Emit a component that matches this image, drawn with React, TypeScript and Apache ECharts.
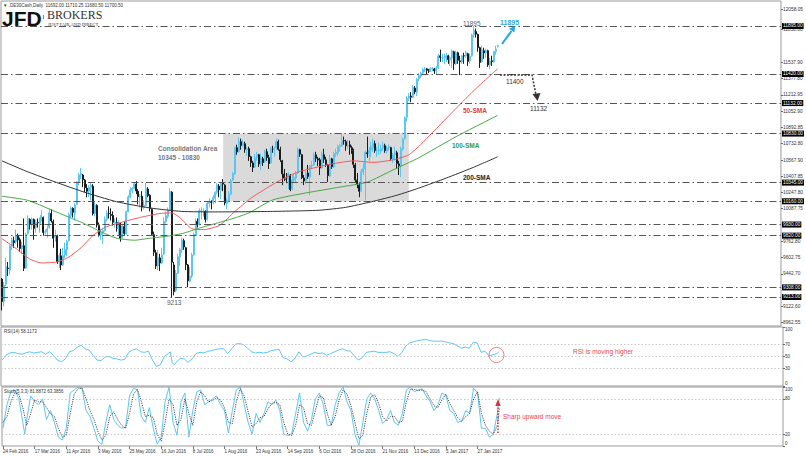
import React, { useEffect, useRef } from "react";
import * as echarts from "echarts";

const FONT = '"Liberation Sans", Arial, sans-serif';
const SERIF = '"Liberation Serif", "DejaVu Serif", serif';

// ---- categories: daily bars (weekdays, broker holidays removed) ----
const HOLIDAYS = ["2016-03-25", "2016-12-26"];
const FIRST_DAY = [2016, 1, 24];
const LAST_DAY = [2017, 1, 13];
const EMPTY_SLOTS = 143;
const MONTHS = ["Jan", "Feb", "Mar", "Apr", "May", "Jun", "Jul", "Aug", "Sep", "Oct", "Nov", "Dec"];

// ---- price candles: [open, close, low, high] ----
const candles: number[][] = [
  [9390,9167,9080,9400],[9170,9331,9120,9360],[9340,9513,9320,9600],
  [9500,9495,9420,9560],[9480,9717,9430,9730],[9720,9777,9680,9800],[9770,9751,9700,9810],[9760,9824,9740,9880],
  [9820,9778,9700,9840],[9780,9692,9660,9800],[9690,9723,9640,9760],[9720,9498,9470,9990],[9500,9831,9490,9850],
  [9840,9990,9830,10020],[9980,9933,9880,9990],[9930,9983,9880,10000],[9980,9892,9780,9990],[9900,9950,9850,9980],
  [9950,9948,9900,9990],[9940,9990,9850,10000],[9990,10022,9960,10070],[10000,9851,9820,10010],
  [9850,9860,9830,9880],[9860,9887,9800,9920],[9900,10046,9890,10090],[10040,9966,9950,10080],[9960,9794,9700,9980],
  [9800,9822,9760,9880],[9820,9563,9540,9830],[9560,9624,9500,9650],[9620,9530,9480,9690],[9530,9622,9520,9700],
  [9630,9682,9600,9750],[9680,9762,9620,9780],[9770,10027,9760,10050],[10020,10093,10000,10110],[10090,10051,10000,10100],
  [10040,10120,9970,10140],[10130,10350,10120,10360],[10350,10421,10320,10440],[10420,10435,10380,10490],[10420,10373,10300,10430],
  [10370,10294,10250,10380],[10290,10260,10200,10330],[10260,10299,10200,10320],[10300,10321,10170,10340],[10310,10039,10020,10330],
  [10040,10123,10010,10150],[10120,9926,9900,10130],[9920,9828,9810,9950],[9830,9851,9780,9890],[9850,9870,9740,9890],
  [9870,9980,9860,10010],[9980,10045,9960,10070],[10040,10037,9990,10110],[10030,10020,9970,10090],[10020,9952,9920,10060],
  [9950,9953,9900,9990],[9950,9891,9860,10000],[9890,9943,9830,9970],[9940,9795,9760,9950],[9800,9916,9790,9930],
  [9910,9842,9820,9960],[9840,10057,9830,10070],[10060,10205,10050,10220],[10200,10272,10190,10300],[10270,10287,10240,10300],
  [10290,10333,10280,10350],[10330,10263,10230,10360],[10260,10205,10130,10280],[10200,10208,10100,10230],[10210,10103,10060,10260],
  [10100,10121,10080,10170],[10120,10287,10110,10340],[10280,10217,10200,10300],[10220,10088,10060,10230],[10080,9834,9820,10090],
  [9830,9657,9620,9860],[9650,9520,9490,9680],[9520,9607,9480,9680],[9600,9550,9470,9640],[9550,9631,9540,9700],
  [9640,9962,9630,10000],[9960,10016,9940,10060],[10010,10071,9990,10100],[10070,10258,10060,10290],[10250,9557,9213,10260],
  [9530,9268,9230,9560],[9280,9448,9260,9480],[9450,9612,9440,9640],[9610,9680,9520,9700],[9680,9776,9650,9800],
  [9770,9709,9680,9790],[9700,9532,9480,9710],[9530,9373,9310,9540],[9370,9418,9360,9510],[9420,9629,9400,9650],
  [9630,9833,9620,9850],[9830,9964,9820,9990],[9960,9930,9900,9990],[9930,10068,9920,10090],[10060,10066,9980,10100],
  [10060,10063,10010,10090],[10060,9981,9950,10070],[9980,10142,9970,10160],[10140,10156,10100,10190],[10150,10147,10080,10170],
  [10150,10198,10130,10220],[10190,10247,10140,10260],[10250,10319,10230,10340],[10310,10275,10200,10330],[10270,10337,10180,10340],
  [10340,10330,10260,10380],[10320,10144,10120,10330],[10140,10170,10080,10190],[10170,10228,10150,10260],[10230,10367,10220,10380],
  [10370,10432,10360,10450],[10430,10692,10420,10700],[10690,10650,10620,10720],[10650,10753,10640,10790],[10750,10713,10670,10780],
  [10710,10739,10700,10770],[10730,10676,10640,10750],[10670,10679,10610,10700],[10680,10603,10560,10700],[10600,10544,10500,10610],
  [10540,10495,10450,10560],[10500,10593,10490,10630],[10590,10623,10560,10650],[10620,10530,10500,10630],[10530,10587,10470,10630],
  [10580,10544,10510,10600],[10550,10657,10540,10670],[10650,10593,10560,10680],[10590,10534,10480,10620],[10540,10684,10530,10700],
  [10680,10672,10640,10710],[10670,10688,10600,10700],[10690,10752,10670,10780],[10750,10675,10660,10770],[10670,10573,10550,10700],
  [10560,10432,10320,10570],[10430,10387,10360,10480],[10380,10379,10340,10440],[10380,10431,10280,10450],[10420,10276,10260,10430],
  [10280,10374,10270,10420],[10370,10393,10340,10440],[10390,10436,10350,10460],[10440,10674,10430,10690],[10670,10626,10600,10680],
  [10620,10394,10380,10630],[10390,10361,10320,10420],[10360,10438,10330,10460],[10440,10405,10380,10520],[10400,10511,10220,10520],
  [10510,10519,10480,10560],[10520,10619,10510,10640],[10620,10585,10550,10650],[10580,10568,10510,10600],[10570,10490,10420,10590],
  [10490,10624,10480,10650],[10620,10577,10540,10680],[10570,10523,10500,10600],[10520,10414,10350,10530],[10410,10580,10400,10620],
  [10580,10503,10480,10590],[10500,10631,10490,10650],[10630,10645,10600,10680],[10640,10701,10610,10720],[10700,10711,10650,10730],
  [10710,10762,10700,10830],[10760,10757,10720,10800],[10750,10710,10660,10770],[10710,10717,10680,10770],[10720,10696,10620,10760],
  [10690,10665,10630,10710],[10660,10526,10490,10680],[10520,10370,10350,10540],[10370,10325,10290,10440],[10320,10259,10200,10350],
  [10260,10456,10250,10480],[10450,10482,10420,10540],[10480,10646,10174,10660],[10640,10630,10590,10800],[10630,10667,10560,10700],
  [10670,10693,10600,10750],[10690,10735,10650,10780],[10730,10663,10640,10760],[10660,10664,10600,10700],[10660,10664,10620,10740],
  [10660,10685,10630,10720],[10690,10713,10660,10750],[10710,10662,10640,10730],[10660,10689,10630,10710],[10690,10700,10660,10720],
  [10690,10582,10560,10700],[10580,10620,10540,10640],[10620,10640,10560,10700],[10640,10534,10480,10660],[10530,10513,10420,10560],
  [10510,10684,10400,10700],[10680,10776,10660,10790],[10780,10986,10770,11000],[10990,11179,10950,11200],[11180,11203,11150,11230],
  [11200,11190,11140,11240],[11190,11284,11180,11310],[11280,11244,11220,11300],[11240,11366,11200,11380],[11370,11404,11350,11430],
  [11400,11427,11380,11440],[11430,11464,11410,11480],[11460,11468,11440,11490],[11470,11456,11420,11480],[11450,11449,11430,11470],
  [11450,11474,11440,11490],[11470,11475,11450,11490],[11470,11451,11420,11480],[11450,11481,11420,11500],
  [11480,11599,11470,11620],[11600,11584,11540,11660],[11580,11585,11540,11620],[11580,11585,11520,11620],[11580,11599,11540,11630],
  [11600,11563,11520,11610],[11560,11583,11500,11600],[11580,11646,11480,11660],[11640,11521,11460,11650],[11520,11629,11510,11650],
  [11630,11555,11520,11640],[11550,11540,11410,11600],[11540,11599,11520,11610],[11600,11599,11520,11630],[11600,11630,11580,11650],
  [11620,11545,11500,11630],[11550,11595,11520,11620],[11600,11806,11590,11820],[11810,11848,11780,11895],[11840,11814,11780,11870],
  [11810,11681,11640,11820],[11680,11535,11480,11690],[11540,11659,11530,11700],[11650,11627,11570,11680],[11630,11651,11580,11670],
  [11650,11509,11490,11660],[11510,11549,11470,11580],[11550,11543,11500,11600],[11540,11643,11530,11650],[11640,11667,11610,11700],
  [11692,11700.5,11680.5,11710.25],
];

// ---- moving averages: [bar index, value] ----
const sma50: number[][] = [
  [0,9790],[8,9680],[14,9590],[20,9550],[28,9560],[34,9610],[40,9700],[46,9820],[52,9900],[60,9950],
  [70,10000],[80,10040],[86,10045],[90,10000],[96,9890],[102,9880],[110,9920],[118,10060],[126,10190],
  [134,10290],[142,10380],[150,10450],[160,10500],[170,10540],[178,10560],[188,10545],[198,10570],
  [206,10620],[212,10720],[218,10840],[227,11020],[235,11180],[243,11330],[251,11470],
];
const sma100: number[][] = [
  [0,10210],[13,10170],[25,10075],[33,10010],[41,9945],[50,9860],[58,9795],[67,9775],[75,9795],
  [84,9815],[92,9845],[100,9895],[109,9945],[117,9990],[125,10045],[137,10173],[154,10243],[171,10300],
  [185,10350],[198,10470],[211,10590],[230,10800],[251,11010],
];
const sma200: number[][] = [
  [0,10560],[12,10460],[24,10372],[41,10255],[58,10156],[75,10094],[91,10060],[108,10055],[125,10057],
  [137,10060],[150,10065],[161,10072],[174,10100],[187,10155],[200,10220],[211,10290],[225,10390],
  [238,10490],[251,10600],
];

// ---- RSI(14) ----
const rsi: number[][] = [
  [0,44],[2,52],[4,56],[6,57],[8,55],[10,54],[12,56],[14,58],[16,56],[18,57],[20,58],[22,54],[24,58],
  [26,52],[28,44],[30,41],[32,46],[34,58],[36,60],[38,66],[40,69],[42,63],[44,61],[46,52],[48,44],[50,43],
  [52,49],[54,50],[56,47],[58,46],[60,44],[62,45],[64,57],[66,61],[68,63],[70,58],[72,57],[74,59],[76,44],
  [78,33],[80,36],[82,50],[84,55],[85,58],[86,40],[87,36],[88,40],[90,47],[92,46],[94,40],[96,46],[98,55],
  [100,57],[102,56],[104,59],[106,60],[108,62],[110,63],[112,63],[114,55],[116,63],[118,71],[120,72],[122,70],
  [124,64],[126,58],[128,56],[130,57],[132,56],[134,57],[136,60],[138,61],[140,62],[142,48],[144,46],[146,41],
  [148,47],[150,58],[152,49],[154,51],[156,54],[158,57],[160,55],[162,56],[164,52],[166,55],[168,58],[170,61],
  [172,63],[174,60],[176,59],[178,51],[180,44],[182,48],[184,57],[186,58],[188,59],[190,57],[192,57],[194,57],
  [196,58],[198,55],[200,50],[202,57],[204,68],[206,73],[208,75],[210,77],[212,78],[214,79],[216,77],[218,76],
  [220,76],[222,76],[224,75],[226,73],[228,72],[230,68],[232,64],[234,66],[236,64],[238,74],[240,73],[242,57],
  [244,59],[246,51],[248,53],[250,55],[251,58.1173],
];

// ---- Stochastic(5,3,3) ----
const stochK: number[][] = [
  [0,30],[2,70],[4,92],[6,95],[8,80],[10,40],[11,20],[12,45],[14,85],[16,75],[18,70],[20,80],[22,45],[24,60],
  [26,40],[28,15],[30,10],[32,30],[34,90],[36,95],[38,100],[40,98],[42,60],[44,50],[46,30],[48,8],[50,3],
  [52,40],[54,70],[56,45],[58,35],[60,30],[62,32],[64,85],[66,98],[68,95],[70,50],[72,40],[74,65],[76,30],
  [78,3],[80,15],[82,75],[84,100],[86,40],[88,18],[90,75],[92,90],[94,15],[96,60],[98,92],[100,95],[102,70],
  [104,75],[106,80],[108,85],[110,70],[112,60],[114,22],[116,60],[118,95],[120,100],[122,70],[124,40],[126,20],
  [128,55],[130,40],[132,55],[134,75],[136,70],[138,78],[140,60],[142,20],[144,18],[146,20],[148,55],[150,90],
  [152,40],[154,25],[156,45],[158,80],[160,90],[162,70],[164,35],[166,35],[168,70],[170,90],[172,100],[174,75],
  [176,60],[178,20],[180,1],[182,40],[184,80],[186,90],[188,80],[190,60],[192,38],[194,45],[196,60],[198,40],
  [200,35],[202,55],[204,95],[206,100],[208,92],[210,95],[212,97],[214,85],[216,75],[218,60],[220,70],[222,90],
  [224,85],[226,60],[228,55],[230,40],[232,42],[234,60],[236,55],[238,98],[240,90],[242,30],[244,30],[246,15],
  [248,20],[250,55],[251,81.8872],
];
const stochD: number[][] = [
  [0,40],[2,50],[4,75],[6,90],[8,88],[10,65],[12,35],[14,55],[16,78],[18,75],[20,75],[22,65],[24,55],[26,50],
  [28,30],[30,15],[32,18],[34,55],[36,88],[38,97],[40,98],[42,80],[44,60],[46,45],[48,25],[50,10],[52,18],
  [54,50],[56,58],[58,45],[60,35],[62,30],[64,55],[66,88],[68,96],[70,75],[72,50],[74,52],[76,48],[78,20],
  [80,8],[82,40],[84,80],[86,70],[88,35],[90,45],[92,80],[94,55],[96,35],[98,75],[100,92],[102,85],[104,75],
  [106,77],[108,82],[110,78],[112,65],[114,40],[116,38],[118,75],[120,97],[122,85],[124,58],[126,32],[128,38],
  [130,48],[132,50],[134,63],[136,72],[138,74],[140,70],[142,40],[144,20],[146,18],[148,35],[150,70],[152,65],
  [154,38],[156,35],[158,60],[160,85],[162,82],[164,55],[166,35],[168,50],[170,78],[172,95],[174,88],[176,68],
  [178,40],[180,12],[182,18],[184,55],[186,83],[188,87],[190,72],[192,50],[194,42],[196,50],[198,50],[200,40],
  [202,42],[204,75],[206,96],[208,96],[210,94],[212,95],[214,92],[216,80],[218,68],[220,65],[222,78],[224,88],
  [226,72],[228,60],[230,48],[232,42],[234,50],[236,55],[238,80],[240,92],[242,55],[244,35],[246,25],[248,20],
  [250,35],[251,63.3856],
];

// ---- axes / levels ----
const priceTicks = [12058.05, 11858.0, 11537.9, 11377.8, 11212.95, 11052.9, 10892.85, 10732.8, 10567.9,
  10407.85, 10247.8, 10087.75, 9762.8, 9602.75, 9442.7, 9122.6, 8962.55];
const priceRange = [8926, 12142];
const levelLines = [11895, 11420, 11132, 10830, 10345, 10160, 9930, 9820, 9308, 9213];
const lastPrice = 11700.5;
const consolidationBars = [112, 206];
const consolidationPrices = [10830, 10160];
const rsiTicks = [0, 30, 50, 70, 100];
const rsiLevels = [30, 50, 70];
const stochTicks = [0, 20, 80, 100];
const stochLevels = [20, 80];

function tradingDays(): string[] {
  const out: string[] = [];
  const d = new Date(Date.UTC(FIRST_DAY[0], FIRST_DAY[1], FIRST_DAY[2]));
  const end = Date.UTC(LAST_DAY[0], LAST_DAY[1], LAST_DAY[2]);
  while (d.getTime() <= end) {
    const wd = d.getUTCDay();
    const s = d.toISOString().slice(0, 10);
    if (wd !== 0 && wd !== 6 && HOLIDAYS.indexOf(s) < 0) out.push(s);
    d.setUTCDate(d.getUTCDate() + 1);
  }
  return out;
}

export default function App() {
  const ref = useRef<HTMLDivElement>(null);
  useEffect(() => {
    const days = tradingDays();
    const categories = days.concat(Array.from({ length: EMPTY_SLOTS }, (_, i) => "pad" + i));
    const labelInterval = (index: number, value: string) => index % 16 === 0 && !String(value).startsWith("pad");
    const fmtDate = (v: string) => {
      if (v.startsWith("pad")) return "";
      const [y, m, d] = v.split("-");
      return `${+d} ${MONTHS[+m - 1]} ${y}`;
    };
    const gridBase = { left: 1, right: 23, show: true, borderColor: "#9a9a9a", borderWidth: 1, backgroundColor: "#fff" };
    const xAx = (gridIndex: number, labels: boolean) => ({
      type: "category", gridIndex, data: categories, boundaryGap: true,
      axisLine: { show: false }, splitLine: { show: false },
      axisTick: labels ? { show: true, interval: labelInterval, alignWithLabel: true, length: 3, lineStyle: { color: "#777" } } : { show: false },
      axisLabel: labels ? { show: true, interval: labelInterval, formatter: fmtDate, fontSize: 4.5, color: "#333", align: "left", margin: 2.5, fontFamily: FONT } : { show: false },
    });
    const subY = (gridIndex: number, ticks: number[]) => ({
      type: "value", gridIndex, position: "right", min: 0, max: 100,
      axisLine: { show: false }, splitLine: { show: false },
      axisTick: { show: true, customValues: ticks, length: 2, lineStyle: { color: "#666" } },
      axisLabel: { customValues: ticks, fontSize: 4.6, color: "#333", margin: 2, fontFamily: FONT,
        verticalAlignMinLabel: "bottom", verticalAlignMaxLabel: "top" },
    });
    const dotted = (levels: number[]) => ({
      silent: true, symbol: ["none", "none"], label: { show: false },
      lineStyle: { color: "#c8c8c8", type: [1.5, 2], width: 1 },
      data: levels.map((v) => ({ yAxis: v })),
    });
    const t = (text: string, x: number, y: number, size: number, fill: string, weight = "normal", family = FONT, lineHeight?: number) => ({
      type: "text", x, y, silent: true, z: 100,
      style: { text, fill, fontSize: size, fontWeight: weight, fontFamily: family, verticalAlign: "middle", align: "left",
        lineHeight: lineHeight ?? Math.round(size * 1.15) },
    });

    const chart = echarts.init(ref.current!, null, { renderer: "svg" });
    chart.setOption({
      animation: false,
      textStyle: { fontFamily: FONT },
      grid: [
        { ...gridBase, top: 1, height: 325 },
        { ...gridBase, top: 327, height: 59 },
        { ...gridBase, top: 387, height: 59 },
      ],
      xAxis: [xAx(0, false), xAx(1, false), xAx(2, true)],
      yAxis: [
        {
          type: "value", gridIndex: 0, position: "right", min: priceRange[0], max: priceRange[1],
          axisLine: { show: false }, splitLine: { show: false },
          axisTick: { show: true, customValues: priceTicks, length: 2, lineStyle: { color: "#666" } },
          axisLabel: { customValues: priceTicks, formatter: (v: number) => v.toFixed(2), fontSize: 4.8, color: "#333", margin: 2, fontFamily: FONT },
        },
        subY(1, rsiTicks),
        subY(2, stochTicks),
      ],
      series: [
        {
          type: "line", xAxisIndex: 0, yAxisIndex: 0, data: [], z: 1, silent: true,
          markArea: {
            silent: true, itemStyle: { color: "#dadada" },
            data: [[
              { xAxis: categories[consolidationBars[0]], yAxis: consolidationPrices[0] },
              { xAxis: categories[consolidationBars[1]], yAxis: consolidationPrices[1] },
            ]],
          },
        },
        {
          type: "candlestick", xAxisIndex: 0, yAxisIndex: 0, data: candles, z: 3, barWidth: 1.5,
          itemStyle: { color: "#5cc6f2", color0: "#1c1c1c", borderColor: "#5cc6f2", borderColor0: "#1c1c1c", borderWidth: 1 },
          markLine: {
            silent: true, symbol: ["none", "none"],
            lineStyle: { color: "#555", type: [7, 3, 1.5, 3], width: 1 },
            label: {
              show: true, position: "end", distance: 1, formatter: (p: any) => Number(p.value).toFixed(2),
              backgroundColor: "#000", color: "#fff", fontSize: 4.8, padding: [0.5, 1], fontFamily: FONT,
            },
            data: [
              ...levelLines.map((v) => ({ yAxis: v })),
              { yAxis: lastPrice, lineStyle: { opacity: 0 }, label: { backgroundColor: "#4a4a4a" } },
            ],
          },
        },
        { type: "line", xAxisIndex: 0, yAxisIndex: 0, data: sma50, showSymbol: false, smooth: 0.2, z: 4, lineStyle: { color: "#f05a5a", width: 1 } },
        { type: "line", xAxisIndex: 0, yAxisIndex: 0, data: sma100, showSymbol: false, smooth: 0.2, z: 4, lineStyle: { color: "#45a845", width: 1 } },
        { type: "line", xAxisIndex: 0, yAxisIndex: 0, data: sma200, showSymbol: false, smooth: 0.2, z: 4, lineStyle: { color: "#333", width: 1 } },
        {
          type: "line", xAxisIndex: 1, yAxisIndex: 1, data: rsi, showSymbol: false, z: 4,
          lineStyle: { color: "#5cc6f2", width: 1 }, markLine: dotted(rsiLevels),
        },
        {
          type: "line", xAxisIndex: 2, yAxisIndex: 2, data: stochK, showSymbol: false, z: 4,
          lineStyle: { color: "#5cc6f2", width: 1 }, markLine: dotted(stochLevels),
        },
        {
          type: "line", xAxisIndex: 2, yAxisIndex: 2, data: stochD, showSymbol: false, z: 5,
          lineStyle: { color: "#444", width: 1, type: [1.2, 1.2] },
        },
      ],
      graphic: [
        t("▼ .DE30Cash,Daily  11692.00 11710.25 11680.50 11700.50", 3, 5, 4.5, "#333"),
        t("JFD", 2, 18, 21, "#111", "bold", FONT, 16),
        { type: "rect", silent: true, z: 100, shape: { x: 43, y: 15, width: 1, height: 4 }, style: { fill: "#888" } },
        t("BROKERS", 47, 15, 12, "#333", "normal", SERIF, 9),
        t("JUST FAIR AND DIRECT", 48, 24.6, 4.6, "#333", "normal", SERIF, 4.6),
        t("11895", 463, 23, 6.5, "#666"),
        t("11895", 500, 22, 7, "#1fa8e0", "bold"),
        { type: "line", silent: true, z: 100, shape: { x1: 502, y1: 44, x2: 511.5, y2: 31 }, style: { stroke: "#1fa8e0", lineWidth: 2 } },
        { type: "polygon", silent: true, z: 100, shape: { points: [[515, 26], [514.5, 32.5], [509, 28.8]] }, style: { fill: "#1fa8e0" } },
        t("11400", 506, 81, 6.5, "#333"),
        { type: "polyline", silent: true, z: 100, shape: { points: [[500, 75], [532, 75], [536, 95]] }, style: { stroke: "#333", lineWidth: 1.5, lineDash: [2, 1.5], fill: null } },
        { type: "polygon", silent: true, z: 100, shape: { points: [[532.5, 94], [540.5, 93], [537.5, 101]] }, style: { fill: "#333" } },
        t("11132", 530, 108, 6.5, "#333"),
        t("50-SMA", 463, 110, 6.5, "#e8383d", "bold"),
        t("100-SMA", 452, 145, 6.5, "#3c9a3c", "bold"),
        t("200-SMA", 463, 177, 6.5, "#222", "bold"),
        t("Consolidation Area", 158, 148, 6.5, "#777", "bold"),
        t("10345 - 10830", 158, 157.5, 6.5, "#777", "bold"),
        t("9213", 167, 302, 6.5, "#555"),
        t("RSI(14) 58.1173", 4, 331, 4.5, "#333"),
        t("Stoch(5,3,3) 81.8872 63.3856", 4, 391, 4.5, "#333"),
        { type: "circle", silent: true, z: 100, shape: { cx: 496.5, cy: 355, r: 7.5 }, style: { fill: null, stroke: "#ef7b7b", lineWidth: 1 } },
        t("RSI is moving higher", 573, 351, 6.5, "#e8474f"),
        t("Sharp upward move", 503, 416, 6.5, "#e8474f"),
        { type: "line", silent: true, z: 100, shape: { x1: 498, y1: 433, x2: 498, y2: 405 }, style: { stroke: "#e03030", lineWidth: 1.5, lineDash: [1.5, 1.5] } },
        { type: "polygon", silent: true, z: 100, shape: { points: [[495.3, 406], [500.7, 406], [498, 399]] }, style: { fill: "#e03030" } },
      ],
    });
    return () => chart.dispose();
  }, []);
  return <div ref={ref} style={{ position: "fixed", left: 0, top: 0, width: 806, height: 457, background: "#fff" }} />;
}
